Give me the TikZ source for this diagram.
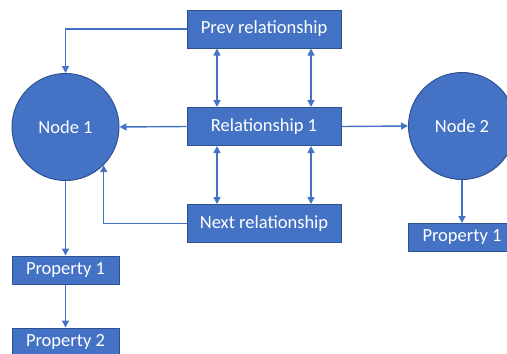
\documentclass[tikz,border=0pt]{standalone}
\usepackage{fontspec}
\setmainfont{Carlito}
\usepackage{xcolor}
\usetikzlibrary{arrows.meta, positioning}
\definecolor{officeblue}{HTML}{4472C4}
\definecolor{officeedge}{HTML}{2F528F}

\begin{document}
\begin{tikzpicture}[
        x=1pt, y=-1pt,
        font=\fontsize{18.5}{22}\selectfont,
        entity/.style={circle, draw=officeedge, fill=officeblue, line width=1pt, minimum size=107pt, inner sep=0pt, text=white},
        relbox/.style={rectangle, draw=officeedge, fill=officeblue, line width=1pt, minimum width=154pt, minimum height=38pt, inner sep=0pt, text=white},
        propbox/.style={rectangle, draw=officeedge, fill=officeblue, line width=1pt, minimum width=107pt, minimum height=28pt, inner sep=0pt, text=white},
        arrow/.style={-{Triangle[length=7pt, width=7pt]}, officeblue, line width=1.4pt},
        dblarrow/.style={{Triangle[length=7pt, width=7pt]}-{Triangle[length=7pt, width=7pt]}, officeblue, line width=1.4pt}
    ]
        \useasboundingbox (0,0) rectangle (507,354);

        % Nodes
        \node[entity] (node1) at (65.5, 127) {Node 1};
        \node[entity] (node2) at (462, 126) {Node 2};

        % Relationships
        \node[relbox] (prev) at (264, 29) {Prev relationship};
        \node[relbox] (rel) at (264, 126.5) {Relationship 1};
        \node[relbox] (next) at (264, 223.5) {Next relationship};

        % Properties
        \node[propbox] (prop1) at (65.5, 270) {Property 1};
        \node[propbox] (prop2) at (65.5, 342) {Property 2};
        \node[propbox, minimum width=108pt] (prop3) at (462, 237.5) {Property 1};

        % Arrows
        \draw[arrow] (prev.west) -| (node1.north);
        \draw[arrow] (rel.west) -- (node1.east);
        \draw[arrow] (rel.east) -- (node2.west);
        \draw[arrow] (next.west) -| (node1.-45);
        \draw[dblarrow] ([xshift=-47pt]prev.south) -- ([xshift=-47pt]rel.north);
        \draw[dblarrow] ([xshift=47pt]prev.south) -- ([xshift=47pt]rel.north);
        \draw[dblarrow] ([xshift=-47pt]rel.south) -- ([xshift=-47pt]next.north);
        \draw[dblarrow] ([xshift=47pt]rel.south) -- ([xshift=47pt]next.north);
        \draw[arrow] (node1.south) -- (prop1.north);
        \draw[arrow] (prop1.south) -- (prop2.north);
        \draw[arrow] (node2.south) -- (prop3.north);
    \end{tikzpicture}
\end{document}
